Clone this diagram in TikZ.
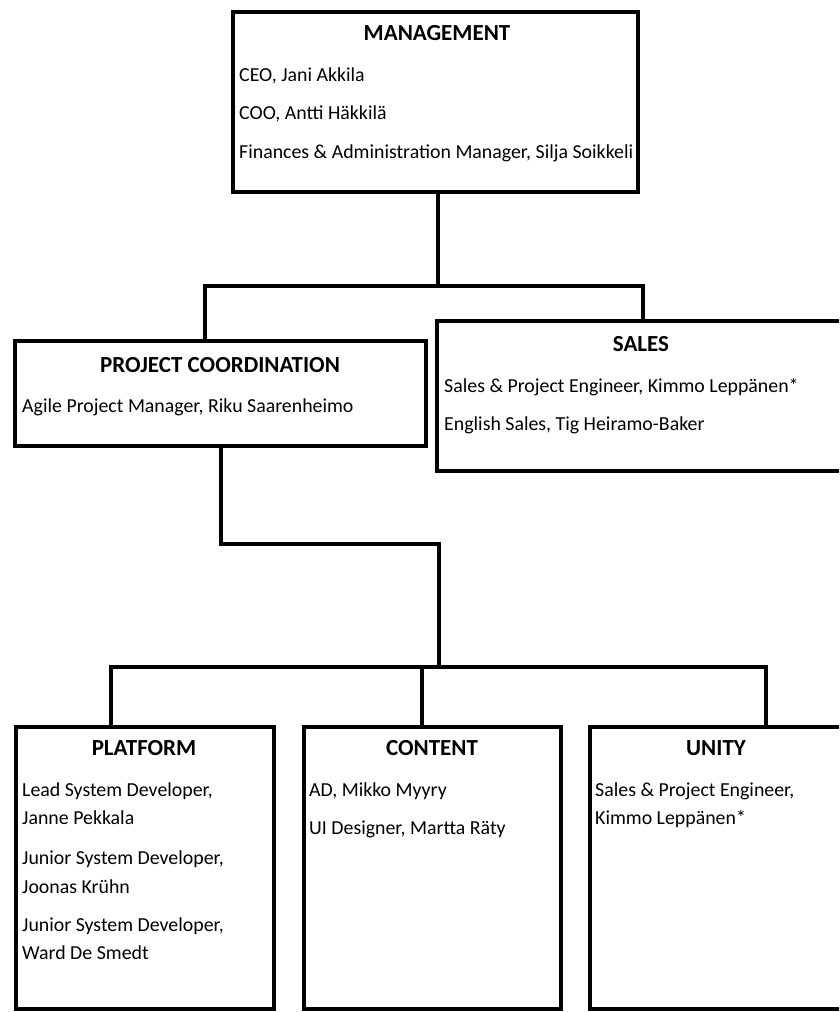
\documentclass[tikz,border=0pt]{standalone}
\usepackage{fontspec}
\setmainfont{Carlito}
\begin{document}
\begin{tikzpicture}[x=1pt,y=-1pt,
  unit/.style={draw,line width=4pt,anchor=north west,inner sep=0pt,outer sep=0pt},
  head/.style={font=\fontsize{23}{27}\selectfont\bfseries,anchor=base,inner sep=0pt},
  entry/.style={font=\fontsize{19.85}{24}\selectfont,anchor=base west,inner sep=0pt},
  link/.style={line width=4pt,line join=miter}]
\useasboundingbox (0,0) rectangle (839,1012);
\clip (0,0) rectangle (839,1012);

% department boxes
\node[unit,minimum width=405pt,minimum height=180pt] (mgmt) at (233,12) {};
\node[unit,minimum width=411pt,minimum height=105pt] (pc) at (15,341) {};
\node[unit,minimum width=405pt,minimum height=150pt] (sales) at (437,321) {};
\node[unit,minimum width=258pt,minimum height=282pt] (plat) at (16,727) {};
\node[unit,minimum width=257pt,minimum height=282pt] (cont) at (304,727) {};
\node[unit,minimum width=260pt,minimum height=282pt] (unity) at (590,727) {};

% junction points of the connectors
\coordinate (j1) at (438,286);
\coordinate (pcdrop) at (205,341);
\coordinate (salesdrop) at (643,321);
\coordinate (pcout) at (221,446);
\coordinate (j2) at (439,544);
\coordinate (bus) at (439,667);
\coordinate (platdrop) at (111,727);
\coordinate (contdrop) at (422,727);
\coordinate (unitydrop) at (766,727);

% connectors
\draw[link] (mgmt.south -| j1) -- (j1);
\draw[link] (pcdrop) -- (pcdrop |- j1) -- (salesdrop |- j1) -- (salesdrop);
\draw[link] (pcout) -- (pcout |- j2) -- (j2) -- (bus);
\draw[link] (platdrop) -- (platdrop |- bus) -- (unitydrop |- bus) -- (unitydrop);
\draw[link] (contdrop |- bus) -- (contdrop);

% management
\node[head] (mgmtT) at (437,40) {MANAGEMENT};
\node[entry] (m1) at (239,81) {CEO, Jani Akkila};
\node[entry] (m2) at (239,119) {COO, Antti Häkkilä};
\node[entry] (m3) at (239,158) {Finances \& Administration Manager, Silja Soikkeli};

% project coordination
\node[head] (pcT) at (220,372) {PROJECT COORDINATION};
\node[entry] (pc1) at (22,412) {Agile Project Manager, Riku Saarenheimo};

% sales
\node[head] (salesT) at (641,351) {SALES};
\node[entry] (s1) at (444,392) {Sales \& Project Engineer, Kimmo Leppänen*};
\node[entry] (s2) at (444,430) {English Sales, Tig Heiramo-Baker};

% platform
\node[head] (platT) at (144,755) {PLATFORM};
\node[entry] (p1) at (22,796) {Lead System Developer,};
\node[entry] (p2) at (22,824) {Janne Pekkala};
\node[entry] (p3) at (22,864) {Junior System Developer,};
\node[entry] (p4) at (22,893) {Joonas Krühn};
\node[entry] (p5) at (22,931) {Junior System Developer,};
\node[entry] (p6) at (22,959) {Ward De Smedt};

% content
\node[head] (contT) at (432,755) {CONTENT};
\node[entry] (c1) at (309,796) {AD, Mikko Myyry};
\node[entry] (c2) at (309,834) {UI Designer, Martta Räty};

% unity
\node[head] (unityT) at (716,755) {UNITY};
\node[entry] (u1) at (595,796) {Sales \& Project Engineer,};
\node[entry] (u2) at (595,824) {Kimmo Leppänen*};
\end{tikzpicture}
\end{document}
